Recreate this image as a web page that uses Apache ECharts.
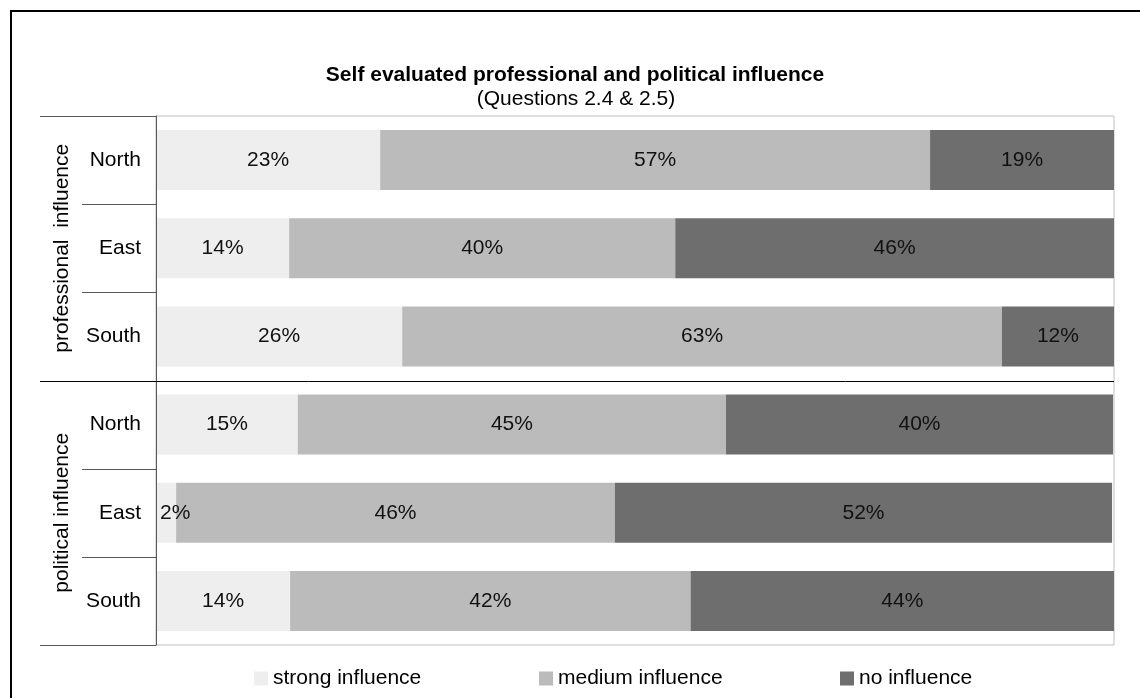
<!DOCTYPE html>
<html>
<head>
<meta charset="utf-8">
<title>Self evaluated professional and political influence</title>
<script src="https://cdn.jsdelivr.net/npm/echarts@6/dist/echarts.min.js"></script>
<style>
  html, body { margin: 0; padding: 0; background: #fff; }
  #chart { width: 1140px; height: 698px; }
</style>
</head>
<body>
<div id="chart"></div>
<script>
// data (percent of respondents)
var regions = ['North', 'East', 'South', 'North', 'East', 'South'];
var groups = ['professional  influence', 'political influence'];
var strongVals = [23.4, 13.9, 25.7, 14.8, 2.1, 14.0];
var mediumVals = [57.4, 40.3, 62.6, 44.7, 45.8, 41.8];
var noVals = [19.2, 45.8, 11.7, 40.4, 51.9, 44.2];
var seriesNames = ['strong influence', 'medium influence', 'no influence'];
var colors = ['#eeeeee', '#bbbbbb', '#6e6e6e'];

var FONT = '"Liberation Sans", Arial, sans-serif';
var FS = 21;
// plot box
var gL = 156, gT = 116, gR = 1114, gB = 645;
var rowH = (gB - gT) / regions.length;

var chart = echarts.init(document.getElementById('chart'));

function pct(p) {
	return Math.round(p.value) + '%';
}

function makeSeries(name, vals, i) {
	return {
		name: name,
		type: 'bar',
		stack: 'all',
		barCategoryGap: '32%',
		itemStyle: { color: colors[i] },
		label: {
			show: true,
			position: 'inside',
			color: '#111',
			fontSize: FS,
			fontFamily: FONT,
			formatter: pct
		},
		emphasis: { disabled: true },
		data: vals.map(function(v) {
			// very thin segments get their label pushed to the left edge
			if (i === 0 && v < 5) {
				return { value: v, label: { position: 'insideLeft', distance: 4 } };
			}
			return v;
		})
	};
}

// separator lines left of the axis (category borders)
var lines = [];
for (var k = 0; k <= regions.length; k++) {
	var y = Math.round(gT + k * rowH) + 0.5;
	var longOne = (k % 3 === 0);
	lines.push({
		type: 'line',
		shape: { x1: longOne ? 40 : 82, y1: y, x2: k === 3 ? gR : gL, y2: y },
		style: { stroke: k === 3 ? '#000' : '#595959', lineWidth: 1 },
		z: 10
	});
}

var option = {
	animation: false,
	backgroundColor: '#fff',
	textStyle: { fontFamily: FONT },
	grid: {
		left: gL, top: gT, right: 1140 - gR, bottom: 698 - gB,
		show: true,
		borderColor: '#bfbfbf',
		borderWidth: 1
	},
	legend: seriesNames.map(function(n, i) {
		return {
			data: [n],
			left: [249, 534, 835][i],
			top: 663,
			itemWidth: 14,
			itemHeight: 14,
			itemGap: 5,
			selectedMode: false,
			icon: 'rect',
			textStyle: { fontSize: FS, color: '#000', fontFamily: FONT }
		};
	}),
	xAxis: {
		type: 'value',
		min: 0,
		max: 100,
		show: false
	},
	yAxis: {
		type: 'category',
		data: regions,
		inverse: true,
		z: 5,
		axisLine: { show: true, lineStyle: { color: '#595959', width: 1 } },
		axisTick: { show: false },
		axisLabel: { fontSize: FS, color: '#000', margin: 15, fontFamily: FONT },
		splitLine: { show: false }
	},
	series: [
		makeSeries(seriesNames[0], strongVals, 0),
		makeSeries(seriesNames[1], mediumVals, 1),
		makeSeries(seriesNames[2], noVals, 2)
	],
	graphic: [
		{
			type: 'rect',
			shape: { x: 11, y: 11, width: 1300, height: 900 },
			style: { fill: 'none', stroke: '#000', lineWidth: 2 },
			z: 0
		},
		{
			type: 'text',
			x: 575, y: 75,
			style: {
				text: 'Self evaluated professional and political influence',
				font: 'bold ' + FS + 'px ' + FONT,
				fill: '#000',
				align: 'center',
				verticalAlign: 'middle'
			}
		},
		{
			type: 'text',
			x: 576, y: 99,
			style: {
				text: '(Questions 2.4 & 2.5)',
				font: FS + 'px ' + FONT,
				fill: '#000',
				align: 'center',
				verticalAlign: 'middle'
			}
		},
		{
			type: 'text',
			x: 62, y: gT + 1.5 * rowH,
			rotation: Math.PI / 2,
			style: {
				text: groups[0],
				font: FS + 'px ' + FONT,
				fill: '#000',
				align: 'center',
				verticalAlign: 'middle'
			}
		},
		{
			type: 'text',
			x: 62, y: gT + 4.5 * rowH,
			rotation: Math.PI / 2,
			style: {
				text: groups[1],
				font: FS + 'px ' + FONT,
				fill: '#000',
				align: 'center',
				verticalAlign: 'middle'
			}
		}
	].concat(lines)
};

chart.setOption(option);
</script>
</body>
</html>
